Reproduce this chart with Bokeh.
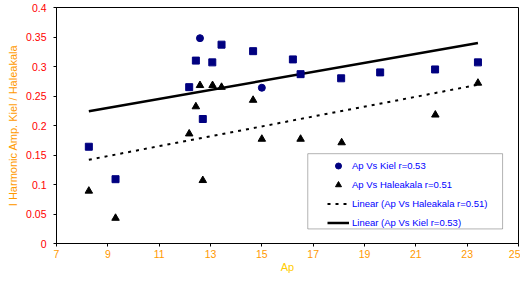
from bokeh.plotting import figure
from bokeh.models import (ColumnDataSource, FixedTicker, Range1d, Legend,
                          LegendItem, BoxAnnotation)
from bokeh.core.properties import field
from bokeh.embed import file_html
from bokeh.resources import INLINE

FONT = "Liberation Sans"

# ---- data ----
kiel_ap = [8.26, 9.30, 12.17, 12.43, 12.59, 12.70, 13.07, 13.43, 14.66, 15.00,
           16.21, 16.51, 18.09, 19.61, 21.75, 23.42]
kiel_amp = [0.164, 0.109, 0.265, 0.310, 0.348, 0.211, 0.307, 0.337, 0.326, 0.264,
            0.312, 0.287, 0.280, 0.290, 0.295, 0.307]

hal_ap = [8.26, 9.30, 12.17, 12.43, 12.59, 12.70, 13.08, 13.43, 14.66, 15.00,
          16.51, 18.11, 21.76, 23.42]
hal_amp = [0.089, 0.043, 0.186, 0.232, 0.268, 0.107, 0.268, 0.265, 0.243, 0.177,
           0.177, 0.171, 0.218, 0.272]

# linear trend lines (end points)
kiel_fit_ap = [8.26, 23.42]
kiel_fit = [0.224, 0.340]
hal_fit_ap = [8.26, 23.42]
hal_fit = [0.142, 0.269]

x_ticks = [7, 9, 11, 13, 15, 17, 19, 21, 23, 25]
y_ticks = [0.0, 0.05, 0.1, 0.15, 0.2, 0.25, 0.3, 0.35, 0.4]
y_tick_labels = ["0", "0.05", "0.1", "0.15", "0.2", "0.25", "0.3", "0.35", "0.4"]

series_labels = ["Ap Vs Kiel r=0.53", "Ap Vs Haleakala r=0.51",
                 "Linear (Ap Vs Haleakala r=0.51)", "Linear (Ap Vs Kiel r=0.53)"]

# style: two of the Kiel markers render round in the original
kiel_markers = ["square"] * len(kiel_ap)
kiel_markers[4] = "circle"
kiel_markers[9] = "circle"

p = figure(width=520, height=275, output_backend="svg", toolbar_location=None,
           x_range=Range1d(7, 25), y_range=Range1d(0, 0.4),
           min_border_left=56, min_border_right=2, min_border_top=7,
           min_border_bottom=31)
p.background_fill_color = "white"
p.border_fill_color = "white"
p.xgrid.visible = False
p.ygrid.visible = False
p.outline_line_color = "black"
p.outline_line_width = 1
p.outline_line_alpha = 1

# legend frame (drawn under the glyphs)
p.add_layout(BoxAnnotation(left=16.79, right=24.38, bottom=0.0247, top=0.1522,
                           fill_color="white", fill_alpha=1,
                           line_color="black", line_width=1, level="underlay"))

r_hal_fit = p.line(hal_fit_ap, hal_fit, line_color="black", line_width=2,
                   line_dash="3 5")
r_kiel_fit = p.line(kiel_fit_ap, kiel_fit, line_color="black", line_width=2.5)

src_k = ColumnDataSource(dict(x=kiel_ap, y=kiel_amp, m=kiel_markers))
r_kiel = p.scatter("x", "y", source=src_k, marker=field("m"), size=7,
                   fill_color="#000080", line_color="#000080")
r_hal = p.scatter(hal_ap, hal_amp, marker="triangle", size=7.5,
                  fill_color="black", line_color="black")

legend = Legend(items=[
    LegendItem(label=series_labels[0], renderers=[r_kiel], index=4),
    LegendItem(label=series_labels[1], renderers=[r_hal]),
    LegendItem(label=series_labels[2], renderers=[r_hal_fit]),
    LegendItem(label=series_labels[3], renderers=[r_kiel_fit]),
], location=(271, 13))
legend.border_line_color = None
legend.background_fill_alpha = 0
legend.padding = 0
legend.margin = 0
legend.spacing = 4
legend.glyph_width = 22
legend.glyph_height = 15
legend.label_height = 15
legend.label_standoff = 3
legend.label_text_font = FONT
legend.label_text_font_size = "9.5px"
legend.label_text_color = "#0000FF"
p.add_layout(legend)

xa = p.xaxis[0]
ya = p.yaxis[0]
xa.ticker = FixedTicker(ticks=x_ticks)
ya.ticker = FixedTicker(ticks=y_ticks)
ya.major_label_overrides = dict(zip(y_ticks, y_tick_labels))

for ax in (xa, ya):
    ax.axis_line_color = "black"
    ax.axis_line_width = 1
    ax.major_tick_line_color = "black"
    ax.major_tick_in = 0
    ax.major_tick_out = 3
    ax.minor_tick_line_color = None
    ax.major_label_text_font = FONT
    ax.major_label_text_font_size = "10.5px"
    ax.axis_label_text_font = FONT
    ax.axis_label_text_font_size = "11px"
    ax.axis_label_text_font_style = "normal"

ya.major_label_text_color = "#FF0000"
ya.axis_label = "I Harmonic Amp. Kiel / Haleakala"
ya.axis_label_text_color = "#FF9900"
ya.major_label_standoff = 7
ya.axis_label_standoff = 4

xa.major_label_text_color = "#FF9900"
xa.axis_label = "Ap"
xa.axis_label_text_color = "#FFCC00"
xa.major_label_standoff = 3
xa.axis_label_standoff = 0

open("out.html", "w").write(file_html(p, INLINE))
